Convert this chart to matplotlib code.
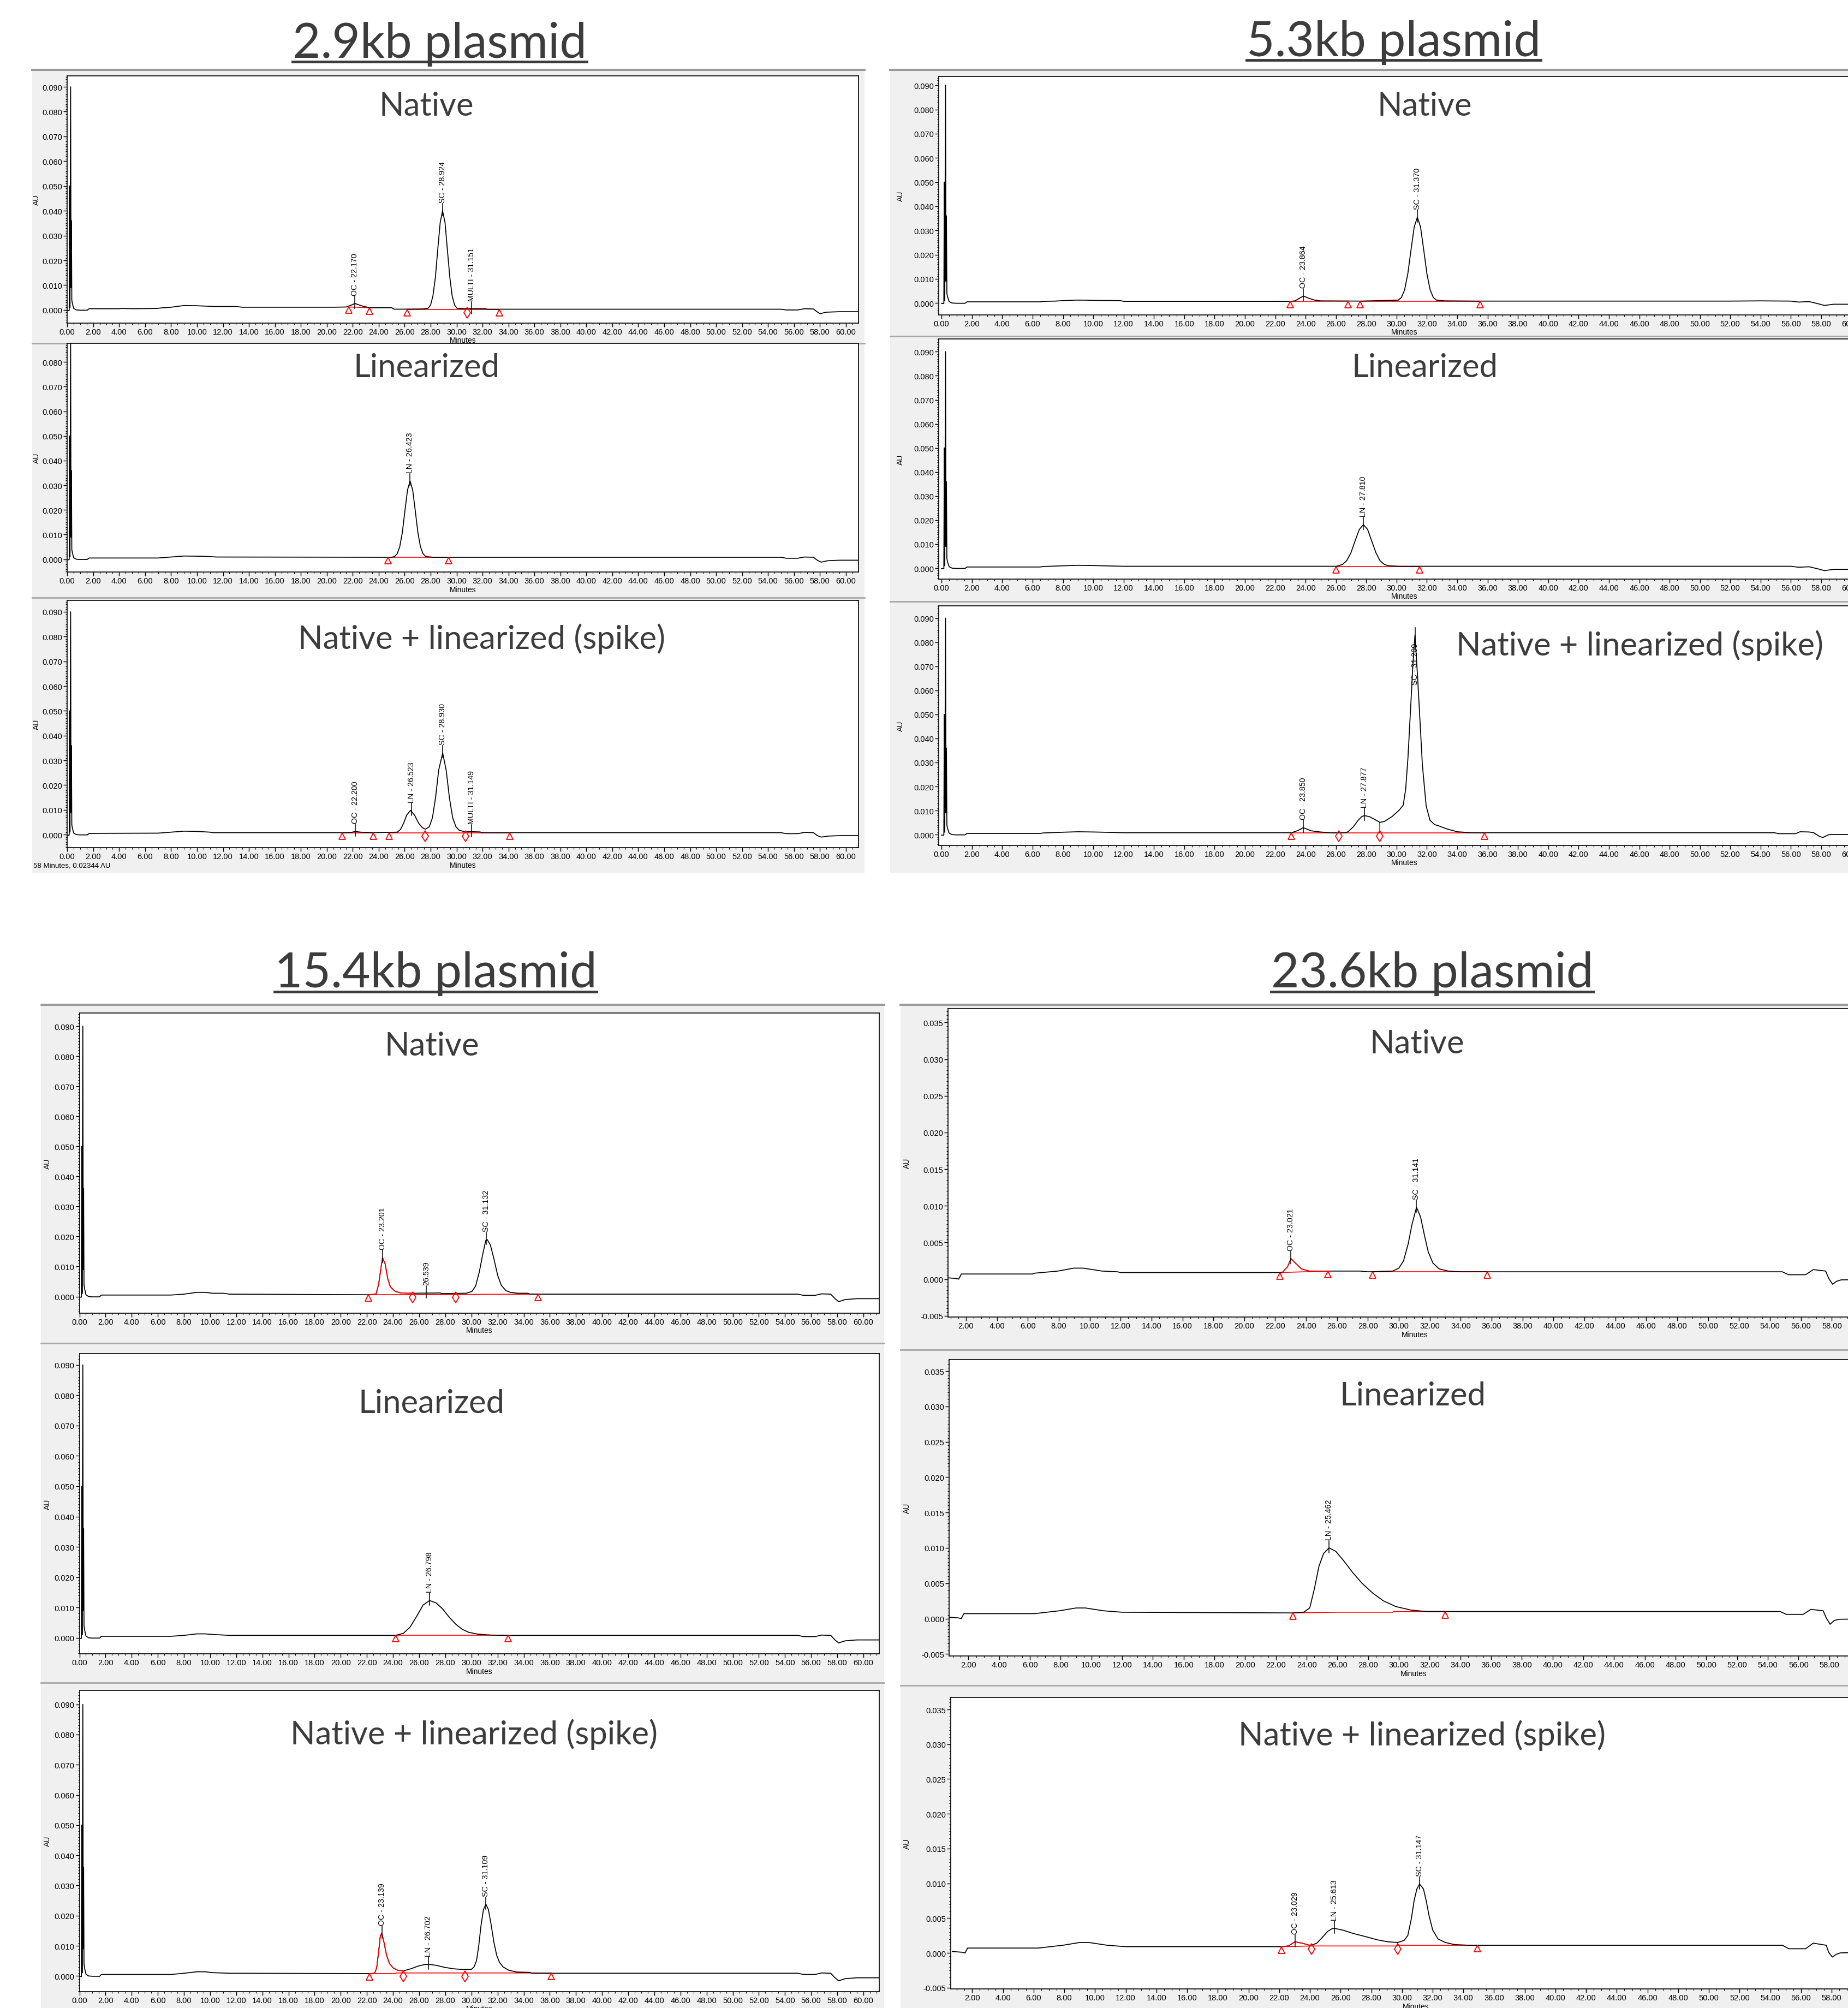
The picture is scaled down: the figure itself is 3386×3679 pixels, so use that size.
# HPLC chromatograms of native / linearized / spiked plasmids (4 sizes, 3 runs each)
import matplotlib
matplotlib.use("Agg")
import matplotlib.pyplot as plt
from matplotlib.patches import Rectangle
from matplotlib.lines import Line2D
from matplotlib.ticker import MultipleLocator, FuncFormatter
import numpy as np

plt.rcParams['font.family'] = ['Liberation Sans', 'DejaVu Sans']

# ---------------- data (minutes, AU) ----------------
inj_spike = [(0.0, -0.0002), (0.15, -0.0002), (0.18, 0.050), (0.21, 0.001), (0.26, 0.090),
             (0.29, 0.009), (0.32, 0.036), (0.35, 0.004), (0.40, 0.0025), (0.5, 0.0006),
             (0.7, 0.0), (1.0, -0.0001), (1.55, -0.0001), (1.65, 0.0004)]

# 2.9 kb
a1_trace = [(1.7, 0.0005), (4.0, 0.0005), (4.2, 0.0006), (5.0, 0.0005), (6.9, 0.0006), (7.2, 0.0008),
            (8.0, 0.0011), (9.0, 0.0018), (10.0, 0.0017), (11.3, 0.0014), (13.0, 0.0014), (13.5, 0.0011),
            (20.5, 0.0011), (21.5, 0.0012), (21.9, 0.0020), (22.17, 0.0026), (22.45, 0.0021), (22.8, 0.0015),
            (23.3, 0.0009), (25.0, 0.0009), (25.2, 0.0003), (27.4, 0.0004), (27.81, 0.0007), (28.0, 0.0020),
            (28.18, 0.0057), (28.37, 0.0132), (28.55, 0.0244), (28.74, 0.0353), (28.92, 0.0400),
            (29.11, 0.0353), (29.29, 0.0244), (29.48, 0.0132), (29.66, 0.0057), (29.85, 0.0020),
            (30.03, 0.0007), (30.5, 0.0005), (32.2, 0.0005), (32.4, 0.0003), (55.0, 0.0003), (55.4, 0.0),
            (56.3, 0.0), (56.8, 0.0005), (57.5, 0.0004), (57.8, -0.0008), (58.0, -0.0015), (58.5, -0.0009),
            (59.5, -0.0007), (61.5, -0.0007)]
a1_marks = [(21.7, 0.0012, 'tri'), (23.3, 0.0009, 'tri'), (26.2, 0.0003, 'tri'), (30.8, 0.0003, 'dia'),
            (33.3, 0.0003, 'tri')]
a1_base = [[(21.7, 0.0012), (23.3, 0.0009)], [(26.2, 0.0003), (33.3, 0.0003)]]
a1_labels = [("OC - 22.170", 22.17, 0.0026, None), ("SC - 28.924", 28.924, 0.0400, None),
             ("MULTI - 31.151", 31.151, 0.0005, None)]

a2_trace = [(1.7, 0.0005), (7.0, 0.0005), (8.0, 0.0009), (9.0, 0.0013), (10.5, 0.0012), (11.5, 0.0009),
            (24.5, 0.0008), (25.0, 0.0008), (25.22, 0.0011), (25.42, 0.0022), (25.62, 0.0050),
            (25.82, 0.0108), (26.02, 0.0196), (26.22, 0.0281), (26.42, 0.0317), (26.62, 0.0281),
            (26.82, 0.0196), (27.02, 0.0108), (27.22, 0.0050), (27.42, 0.0022), (27.62, 0.0011),
            (28.2, 0.0008), (55.0, 0.0008), (55.4, 0.0004), (56.3, 0.0004), (56.8, 0.0009), (57.5, 0.0008),
            (57.8, -0.0004), (58.1, -0.0012), (58.6, -0.0006), (59.5, -0.0004), (61.5, -0.0004)]
a2_marks = [(24.7, 0.0008, 'tri'), (29.4, 0.0008, 'tri')]
a2_base = [[(24.7, 0.0008), (29.4, 0.0008)]]
a2_labels = [("LN - 26.423", 26.423, 0.0317, None)]

a3_trace = [(1.7, 0.0005), (7.0, 0.0006), (8.0, 0.0010), (9.0, 0.0014), (10.0, 0.0013), (11.0, 0.0010),
            (11.2, 0.0008), (21.2, 0.0008), (21.9, 0.0009), (22.2, 0.0013), (22.6, 0.0010), (23.6, 0.0008),
            (25.43, 0.0010), (25.68, 0.0021), (25.92, 0.0046), (26.16, 0.0079), (26.45, 0.0098),
            (26.76, 0.0079), (27.08, 0.0046), (27.37, 0.0028), (27.6, 0.0022), (27.9, 0.0032),
            (28.14, 0.0068), (28.38, 0.0149), (28.62, 0.0260), (28.93, 0.0330), (29.2, 0.0260),
            (29.45, 0.0149), (29.7, 0.0068), (29.95, 0.0032), (30.2, 0.0018), (30.6, 0.0012),
            (31.15, 0.0012), (31.8, 0.0011), (32.0, 0.0008), (55.0, 0.0008), (55.4, 0.0004), (56.3, 0.0004),
            (56.8, 0.0009), (57.5, 0.0008), (57.8, -0.0004), (58.1, -0.0010), (58.6, -0.0006),
            (59.5, -0.0004), (61.5, -0.0004)]
a3_marks = [(21.2, 0.0008, 'tri'), (23.6, 0.0008, 'tri'), (24.8, 0.0008, 'tri'), (27.6, 0.0008, 'dia'),
            (30.7, 0.0008, 'dia'), (34.1, 0.0008, 'tri')]
a3_base = [[(21.2, 0.0008), (23.6, 0.0008)], [(24.8, 0.0008), (34.1, 0.0008)]]
a3_labels = [("OC - 22.200", 22.2, 0.0013, None), ("LN - 26.523", 26.523, 0.0098, None),
             ("SC - 28.930", 28.93, 0.0330, None), ("MULTI - 31.149", 31.149, 0.0012, None)]

# 5.3 kb
b1_trace = [(1.7, 0.0005), (6.5, 0.0005), (6.7, 0.0007), (7.5, 0.0008), (8.0, 0.0010), (8.8, 0.0012),
            (9.5, 0.0012), (10.0, 0.0011), (11.8, 0.0010), (12.0, 0.0007), (23.0, 0.0007), (23.3, 0.0009),
            (23.6, 0.0020), (23.86, 0.0029), (24.2, 0.0020), (24.6, 0.0012), (25.0, 0.0009), (27.6, 0.0008),
            (30.11, 0.0012), (30.32, 0.0023), (30.53, 0.0055), (30.74, 0.0121), (30.95, 0.0219),
            (31.16, 0.0314), (31.37, 0.0355), (31.58, 0.0314), (31.79, 0.0219), (32.0, 0.0121),
            (32.21, 0.0055), (32.42, 0.0023), (32.63, 0.0012), (33.2, 0.0009), (35.5, 0.0008),
            (52.0, 0.0008), (54.0, 0.0009), (56.0, 0.0008), (56.5, 0.0004), (57.2, 0.0006), (57.8, -0.0003),
            (58.2, -0.0010), (58.8, -0.0005), (61.5, -0.0005)]
b1_marks = [(23.0, 0.0007, 'tri'), (26.8, 0.0008, 'tri'), (27.6, 0.0008, 'tri'), (35.5, 0.0008, 'tri')]
b1_base = [[(23.0, 0.0007), (26.8, 0.0008)], [(27.6, 0.0008), (35.5, 0.0008)]]
b1_labels = [("OC - 23.864", 23.864, 0.0029, None), ("SC - 31.370", 31.37, 0.0355, None)]

b2_trace = [(1.7, 0.0005), (6.5, 0.0005), (6.7, 0.0007), (8.0, 0.0010), (9.0, 0.0012), (10.0, 0.0011),
            (12.0, 0.0008), (26.0, 0.0008), (26.16, 0.0010), (26.44, 0.0016), (26.71, 0.0031),
            (26.99, 0.0064), (27.26, 0.0113), (27.54, 0.0161), (27.81, 0.0181), (28.09, 0.0161),
            (28.36, 0.0113), (28.64, 0.0064), (28.91, 0.0031), (29.19, 0.0016), (29.46, 0.0010),
            (30.2, 0.0008), (52.0, 0.0008), (56.0, 0.0008), (56.5, 0.0004), (57.2, 0.0006), (57.8, -0.0003),
            (58.2, -0.0010), (58.8, -0.0005), (61.5, -0.0005)]
b2_marks = [(26.0, 0.0008, 'tri'), (31.5, 0.0008, 'tri')]
b2_base = [[(26.0, 0.0008), (31.5, 0.0008)]]
b2_labels = [("LN - 27.810", 27.81, 0.0181, None)]

b3_trace = [(1.7, 0.0005), (6.5, 0.0005), (6.7, 0.0007), (8.0, 0.0010), (9.0, 0.0012), (10.0, 0.0011),
            (12.0, 0.0008), (23.07, 0.0008), (23.5, 0.0017), (23.85, 0.0029), (24.36, 0.0016),
            (24.98, 0.0011), (25.6, 0.0008), (26.6, 0.0008), (26.8, 0.0012), (27.14, 0.0032),
            (27.46, 0.0059), (27.7, 0.0075), (27.88, 0.0079), (28.2, 0.0075), (28.57, 0.0063),
            (28.9, 0.0051), (29.2, 0.0055), (29.7, 0.0075), (30.19, 0.0103), (30.44, 0.0123),
            (30.6, 0.0190), (30.75, 0.0320), (30.92, 0.0520), (31.06, 0.0690), (31.21, 0.0830),
            (31.38, 0.0660), (31.52, 0.0500), (31.7, 0.0290), (31.95, 0.0119), (32.2, 0.0060),
            (32.5, 0.0042), (32.8, 0.0036), (33.3, 0.0024), (34.0, 0.0012), (34.9, 0.0008),
            (54.9, 0.0008), (55.2, 0.0004), (56.3, 0.0004), (56.6, 0.0012), (57.2, 0.0011), (57.5, 0.0008),
            (57.9, -0.0008), (58.1, -0.0012), (58.5, 0.0), (61.5, 0.0002)]
b3_marks = [(23.07, 0.0008, 'tri'), (26.2, 0.0008, 'dia'), (28.9, 0.0008, 'dia'), (35.8, 0.0008, 'tri')]
b3_base = [[(23.07, 0.0008), (35.8, 0.0008)]]
b3_drops = [(28.9, 0.0008, 0.0051)]
b3_labels = [("OC - 23.850", 23.85, 0.0029, None), ("LN - 27.877", 27.877, 0.0079, None),
             ("SC - 31.209", 31.21, 0.0830, 0.0625)]

# 15.4 kb
c1_trace = [(1.7, 0.0005), (7.0, 0.0005), (8.0, 0.0008), (9.0, 0.0014), (9.6, 0.0014), (10.2, 0.0011),
            (11.0, 0.0011), (11.5, 0.0008), (22.1, 0.0006), (22.7, 0.0008), (22.9, 0.0041), (23.08, 0.0096),
            (23.2, 0.0129), (23.4, 0.0108), (23.6, 0.0059), (23.8, 0.0032), (24.17, 0.0017), (24.6, 0.0012),
            (25.15, 0.0011), (25.57, 0.0011), (27.6, 0.0012), (27.7, 0.0010), (29.6, 0.0011),
            (30.04, 0.0017), (30.32, 0.0035), (30.6, 0.0081), (30.88, 0.0144), (31.1, 0.0187),
            (31.2, 0.0190), (31.45, 0.0172), (31.72, 0.0126), (32.0, 0.0072), (32.28, 0.0038),
            (32.63, 0.0020), (32.98, 0.0014), (33.54, 0.0011), (34.3, 0.0011), (34.5, 0.0008),
            (55.0, 0.0008), (55.4, 0.0004), (56.3, 0.0004), (56.8, 0.0009), (57.5, 0.0008), (57.8, -0.0006),
            (58.1, -0.0017), (58.6, -0.0010), (59.5, -0.0007), (61.5, -0.0007)]
c1_red = (22.1, 25.57)
c1_marks = [(22.1, 0.0006, 'tri'), (25.5, 0.0008, 'dia'), (28.8, 0.0008, 'dia'), (35.1, 0.0008, 'tri')]
c1_base = [[(22.1, 0.0006), (35.1, 0.0008)]]
c1_labels = [("OC - 23.201", 23.201, 0.0129, None), ("26.539", 26.539, 0.0012, None),
             ("SC - 31.132", 31.132, 0.0190, None)]

c2_trace = [(1.7, 0.0005), (7.0, 0.0005), (8.0, 0.0008), (9.0, 0.0013), (9.6, 0.0013), (10.2, 0.0011),
            (11.5, 0.0008), (24.2, 0.0008), (24.8, 0.0015), (25.3, 0.0035), (25.8, 0.0070), (26.3, 0.0108),
            (26.8, 0.0123), (27.3, 0.0115), (27.8, 0.0095), (28.3, 0.0068), (28.8, 0.0045), (29.3, 0.0028),
            (29.8, 0.0018), (30.5, 0.0012), (31.5, 0.0009), (32.8, 0.0008), (55.0, 0.0008), (55.4, 0.0004),
            (56.3, 0.0004), (56.8, 0.0009), (57.5, 0.0008), (57.8, -0.0006), (58.1, -0.0017),
            (58.6, -0.0010), (59.5, -0.0007), (61.5, -0.0007)]
c2_marks = [(24.2, 0.0008, 'tri'), (32.8, 0.0008, 'tri')]
c2_base = [[(24.2, 0.0008), (32.8, 0.0008)]]
c2_labels = [("LN - 26.798", 26.798, 0.0123, None)]

c3_trace = [(1.7, 0.0005), (7.0, 0.0005), (8.0, 0.0009), (9.0, 0.0014), (9.6, 0.0014), (10.2, 0.0011),
            (11.5, 0.0009), (22.24, 0.0008), (22.59, 0.0009), (22.75, 0.0027), (22.9, 0.0081),
            (23.03, 0.0133), (23.14, 0.0142), (23.32, 0.0109), (23.5, 0.0070), (23.72, 0.0042),
            (24.0, 0.0027), (24.35, 0.0019), (24.8, 0.0017), (25.38, 0.0024), (25.94, 0.0033),
            (26.43, 0.0038), (26.85, 0.0038), (27.34, 0.0035), (27.9, 0.0029), (28.6, 0.0024),
            (29.44, 0.0021), (30.0, 0.0022), (30.2, 0.0030), (30.39, 0.0051), (30.56, 0.0100),
            (30.73, 0.0166), (30.92, 0.0220), (31.11, 0.0238), (31.3, 0.0220), (31.5, 0.0172),
            (31.72, 0.0112), (31.93, 0.0069), (32.15, 0.0045), (32.42, 0.0030), (32.86, 0.0019),
            (33.45, 0.0013), (34.48, 0.0012), (34.6, 0.0009), (55.0, 0.0009), (55.4, 0.0005), (56.3, 0.0005),
            (56.8, 0.0010), (57.5, 0.0009), (57.8, -0.0005), (58.1, -0.0016), (58.6, -0.0009),
            (59.5, -0.0006), (61.5, -0.0006)]
c3_red = (22.24, 24.8)
c3_marks = [(22.2, 0.0008, 'tri'), (24.8, 0.0010, 'dia'), (29.5, 0.0010, 'dia'), (36.1, 0.0010, 'tri')]
c3_base = [[(22.2, 0.0008), (24.2, 0.0008), (24.25, 0.0010), (36.1, 0.0010)]]
c3_labels = [("OC - 23.139", 23.139, 0.0142, None), ("LN - 26.702", 26.702, 0.0038, None),
             ("SC - 31.109", 31.109, 0.0238, None)]

# 23.6 kb
d1_trace = [(0.7, 0.0002), (1.33, 0.0001), (1.53, 0.0), (1.7, 0.0007), (6.3, 0.0007), (6.4, 0.0008),
            (7.95, 0.0011), (8.97, 0.0015), (9.58, 0.0015), (10.8, 0.0011), (11.8, 0.0010), (12.0, 0.0009),
            (22.45, 0.0009), (22.8, 0.0017), (23.02, 0.0028), (23.35, 0.0021), (23.7, 0.0014),
            (24.2, 0.0011), (25.45, 0.0011), (27.5, 0.0011), (28.0, 0.0010), (29.6, 0.0011), (30.0, 0.0015),
            (30.3, 0.0025), (30.6, 0.0048), (30.85, 0.0075), (31.14, 0.0098), (31.4, 0.0085),
            (31.65, 0.0060), (31.9, 0.0037), (32.2, 0.0022), (32.6, 0.0014), (33.2, 0.0011), (34.0, 0.0010),
            (54.8, 0.0010), (55.2, 0.0006), (56.3, 0.0006), (56.8, 0.0013), (57.6, 0.0011), (57.8, 0.0001),
            (58.05, -0.0007), (58.3, -0.0003), (58.6, -0.0001), (61.5, 0.0)]
d1_red = (22.3, 25.45)
d1_marks = [(22.3, 0.0009, 'tri'), (25.4, 0.0011, 'tri'), (28.3, 0.0010, 'tri'), (35.7, 0.0010, 'tri')]
d1_base = [[(22.3, 0.0009), (25.4, 0.0011)], [(28.3, 0.0010), (35.7, 0.0010)]]
d1_labels = [("OC - 23.021", 23.021, 0.0028, None), ("SC - 31.141", 31.141, 0.0098, None)]

d2_trace = [(0.7, 0.0002), (1.33, 0.0001), (1.53, 0.0), (1.7, 0.0007), (6.3, 0.0007), (7.9, 0.0011),
            (9.0, 0.0015), (9.6, 0.0015), (10.8, 0.0011), (12.0, 0.0009), (23.1, 0.0008), (23.8, 0.0009),
            (24.2, 0.0015), (24.5, 0.0042), (24.8, 0.0074), (25.1, 0.0092), (25.46, 0.0100), (25.9, 0.0095),
            (26.4, 0.0082), (27.0, 0.0065), (27.6, 0.0050), (28.3, 0.0036), (29.0, 0.0025), (29.8, 0.0017),
            (30.8, 0.0012), (31.8, 0.0010), (33.0, 0.0010), (54.8, 0.0010), (55.2, 0.0006), (56.3, 0.0006),
            (56.8, 0.0013), (57.6, 0.0011), (57.8, 0.0001), (58.05, -0.0008), (58.3, -0.0003),
            (58.6, -0.0001), (61.5, 0.0)]
d2_marks = [(23.1, 0.0008, 'tri'), (33.0, 0.0010, 'tri')]
d2_base = [[(23.1, 0.0008), (26.0, 0.0009), (29.6, 0.0009), (29.65, 0.0010), (33.0, 0.0010)]]
d2_labels = [("LN - 25.462", 25.462, 0.0100, None)]

d3_trace = [(0.7, 0.0002), (1.33, 0.0001), (1.53, 0.0), (1.7, 0.0007), (6.3, 0.0007), (7.9, 0.0011),
            (9.0, 0.0015), (9.6, 0.0015), (10.8, 0.0011), (12.0, 0.0009), (22.14, 0.0009), (22.6, 0.0010),
            (23.03, 0.0016), (23.5, 0.0014), (23.98, 0.0011), (24.1, 0.0011), (24.45, 0.0014),
            (24.8, 0.0022), (25.16, 0.0031), (25.46, 0.0035), (25.66, 0.0035), (26.11, 0.0033),
            (26.82, 0.0028), (27.53, 0.0024), (28.36, 0.0019), (29.07, 0.0016), (29.73, 0.0015),
            (30.14, 0.0018), (30.38, 0.0025), (30.61, 0.0049), (30.79, 0.0075), (30.97, 0.0092),
            (31.15, 0.0099), (31.4, 0.0092), (31.58, 0.0075), (31.76, 0.0054), (32.0, 0.0033),
            (32.35, 0.0020), (32.83, 0.0015), (33.42, 0.0012), (34.4, 0.0011), (54.8, 0.0011),
            (55.2, 0.0006), (56.3, 0.0006), (56.8, 0.0014), (57.65, 0.0011), (57.8, 0.0001),
            (58.04, -0.0006), (58.3, -0.0002), (58.55, 0.0), (61.5, 0.0002)]
d3_red = (22.14, 24.1)
d3_marks = [(22.14, 0.0009, 'tri'), (24.1, 0.0010, 'dia'), (29.73, 0.0010, 'dia'), (34.9, 0.0011, 'tri')]
d3_base = [[(22.14, 0.0009), (24.1, 0.0010), (29.73, 0.0010), (29.76, 0.0011), (34.9, 0.0011)]]
d3_drops = [(29.73, 0.0010, 0.0015)]
d3_labels = [("OC - 23.029", 23.029, 0.0016, None), ("LN - 25.613", 25.613, 0.0035, None),
             ("SC - 31.147", 31.147, 0.0099, None)]

group_titles = ["2.9kb plasmid", "5.3kb plasmid", "15.4kb plasmid", "23.6kb plasmid"]
run_titles = ["Native", "Linearized", "Native + linearized (spike)"]

# ---------------- layout (reference grid 1443 x 1568) ----------------
W, H = 1443.0, 1568.0
S = 3387 / W
fig = plt.figure(figsize=(33.87, 36.80), dpi=100)
fig.patch.set_facecolor('white')


def frac(x0, y0, x1, y1):
    return [x0 / W, 1 - y1 / H, (x1 - x0) / W, (y1 - y0) / H]


def gray_box(x0, y0, x1, y1):
    fig.add_artist(Rectangle((x0 / W, 1 - y1 / H), (x1 - x0) / W, (y1 - y0) / H,
                             transform=fig.transFigure, facecolor='#f0f0f0', edgecolor='none', zorder=-2))
    fig.add_artist(Line2D([x0 / W, x1 / W], [1 - y0 / H] * 2, transform=fig.transFigure,
                          color='#a8a8a8', lw=2.0, zorder=-1))


def fmt_y(v, pos):
    s = "%.3f" % v
    return "0.000" if s == "-0.000" else s


def panel(p):
    x0 = p['x0'] + p['xlim'][0] * p['ppm']
    x1 = p['x0'] + p['xlim'][1] * p['ppm']
    y_top = p['y0'] - p['ylim'][1] * p['ppa']
    y_bot = p['y0'] - p['ylim'][0] * p['ppa']
    gray_box(*p['gray'])
    ax = fig.add_axes(frac(x0, y_top, x1, y_bot), zorder=1)
    ax.set_facecolor('white')
    ax.set_xlim(*p['xlim'])
    ax.set_ylim(*p['ylim'])
    px = 1.0 / (p['ppa'] * S)   # AU per output pixel

    tr = np.array(p['trace'])
    ax.plot(tr[:, 0], tr[:, 1], color='black', lw=1.25, zorder=3)
    if p.get('red'):
        m = (tr[:, 0] >= p['red'][0]) & (tr[:, 0] <= p['red'][1])
        ax.plot(tr[m, 0], tr[m, 1], color='red', lw=1.25, zorder=4)
    for seg in p['base']:
        sg = np.array(seg)
        ax.plot(sg[:, 0], sg[:, 1], color='red', lw=1.2, zorder=2)
    for t, lo, hi in p.get('drops', []):
        ax.plot([t, t], [lo, hi], color='red', lw=1.2, zorder=2)
    for t, au, kind in p['marks']:
        if kind == 'tri':
            ax.plot(t, au - 6 * px, marker='^', ms=9, mfc='none', mec='red', mew=1.3, ls='none', zorder=5)
        else:
            ax.plot(t, au - 6 * px, marker='d', ms=10, mfc='none', mec='red', mew=1.3, ls='none', zorder=5)
    for txt, t, au, tb in p['labels']:
        ax.plot([t, t], [au - 9 * px, au + 13 * px], color='black', lw=1.1, zorder=6)
        yb = au + 15 * px if tb is None else tb
        ax.text(t, yb, txt, rotation=90, ha='center', va='bottom', fontsize=10.3, zorder=7)

    ax.xaxis.set_major_locator(MultipleLocator(2))
    ax.xaxis.set_minor_locator(MultipleLocator(0.5))
    ax.xaxis.set_major_formatter(FuncFormatter(lambda v, pos: "%.2f" % v))
    ax.yaxis.set_major_locator(MultipleLocator(p['ymaj']))
    ax.yaxis.set_minor_locator(MultipleLocator(p['ymaj'] / 10))
    ax.yaxis.set_major_formatter(FuncFormatter(fmt_y))
    ax.tick_params(which='major', direction='out', length=5, width=1.0, labelsize=10.5, pad=1.5)
    ax.tick_params(which='minor', direction='out', length=2.5, width=0.8)
    for sp in ax.spines.values():
        sp.set_linewidth(1.2)
    ax.set_xlabel("Minutes", fontsize=10, labelpad=1)
    fig.text(p['au_x'] / W, 1 - (y_top + y_bot) / 2 / H, "AU", rotation=90, ha='center', va='center', fontsize=10)
    tx, ty = p['title_xy']
    fig.text(tx / W, 1 - ty / H, p['title'], ha='center', va='center', fontsize=43,
             family='Lato', color='#3c3c3c', zorder=10)
    return ax


panels = [
    dict(trace=inj_spike + a1_trace, marks=a1_marks, base=a1_base, labels=a1_labels, title=run_titles[0],
         x0=52.5, ppm=10.13, xlim=(0, 60.96), y0=242.4, ppa=1935.6, ylim=(-0.0053, 0.0944), ymaj=0.01,
         gray=(25, 55, 675, 268.6), au_x=28.5, title_xy=(333, 83)),
    dict(trace=inj_spike + a2_trace, marks=a2_marks, base=a2_base, labels=a2_labels, title=run_titles[1],
         x0=52.5, ppm=10.13, xlim=(0, 60.96), y0=437, ppa=1925, ylim=(-0.0052, 0.0875), ymaj=0.01,
         gray=(25, 268.6, 675, 467), au_x=28.5, title_xy=(333, 287)),
    dict(trace=inj_spike + a3_trace, marks=a3_marks, base=a3_base, labels=a3_labels, title=run_titles[2],
         x0=52.5, ppm=10.13, xlim=(0, 60.96), y0=652, ppa=1933, ylim=(-0.0053, 0.0947), ymaj=0.01,
         gray=(25, 467, 675, 682), au_x=28.5, title_xy=(376, 499)),
    dict(trace=inj_spike + b1_trace, marks=b1_marks, base=b1_base, labels=b1_labels, title=run_titles[0],
         x0=735, ppm=11.84, xlim=(-0.17, 61.2), y0=237, ppa=1889, ylim=(-0.0048, 0.0937), ymaj=0.01,
         gray=(695, 55, 1443, 263), au_x=703, title_xy=(1112, 83)),
    dict(trace=inj_spike + b2_trace, marks=b2_marks, base=b2_base, labels=b2_labels, title=run_titles[1],
         x0=735, ppm=11.84, xlim=(-0.17, 61.2), y0=444, ppa=1878, ylim=(-0.0045, 0.0953), ymaj=0.01,
         gray=(695, 263, 1443, 470), au_x=703, title_xy=(1112, 287)),
    dict(trace=inj_spike + b3_trace, marks=b3_marks, base=b3_base, labels=b3_labels, title=run_titles[2],
         drops=b3_drops,
         x0=735, ppm=11.84, xlim=(-0.17, 61.2), y0=652, ppa=1878, ylim=(-0.0045, 0.0950), ymaj=0.01,
         gray=(695, 470, 1443, 682), au_x=703, title_xy=(1280, 504)),
    dict(trace=inj_spike + c1_trace, marks=c1_marks, base=c1_base, labels=c1_labels, title=run_titles[0],
         red=c1_red,
         x0=62, ppm=10.2, xlim=(0, 61.2), y0=1012.6, ppa=2345.6, ylim=(-0.0055, 0.0944), ymaj=0.01,
         gray=(32, 785, 690, 1049), au_x=37, title_xy=(337, 817)),
    dict(trace=inj_spike + c2_trace, marks=c2_marks, base=c2_base, labels=c2_labels, title=run_titles[1],
         x0=62, ppm=10.2, xlim=(0, 61.2), y0=1279, ppa=2367, ylim=(-0.0053, 0.0938), ymaj=0.01,
         gray=(32, 1049, 690, 1314), au_x=37, title_xy=(337, 1096)),
    dict(trace=inj_spike + c3_trace, marks=c3_marks, base=c3_base, labels=c3_labels, title=run_titles[2],
         red=c3_red,
         x0=62, ppm=10.2, xlim=(0, 61.2), y0=1543, ppa=2356, ylim=(-0.0051, 0.0947), ymaj=0.01,
         gray=(32, 1314, 690, 1568), au_x=37, title_xy=(370, 1354)),
    dict(trace=d1_trace, marks=d1_marks, base=d1_base, labels=d1_labels, title=run_titles[0], red=d1_red,
         x0=729.9, ppm=12.07, xlim=(0.84, 61.2), y0=999, ppa=5723, ylim=(-0.0052, 0.0369), ymaj=0.005,
         gray=(703, 785, 1443, 1054), au_x=708, title_xy=(1106, 815)),
    dict(trace=d2_trace, marks=d2_marks, base=d2_base, labels=d2_labels, title=run_titles[1],
         x0=732, ppm=12.0, xlim=(0.75, 61.2), y0=1264, ppa=5520, ylim=(-0.0053, 0.0366), ymaj=0.005,
         gray=(703, 1054, 1443, 1316), au_x=708, title_xy=(1103, 1090)),
    dict(trace=d3_trace, marks=d3_marks, base=d3_base, labels=d3_labels, title=run_titles[2], red=d3_red,
         drops=d3_drops,
         x0=735, ppm=11.98, xlim=(0.6, 61.2), y0=1525, ppa=5430, ylim=(-0.0052, 0.0367), ymaj=0.005,
         gray=(703, 1316, 1443, 1568), au_x=708, title_xy=(1110, 1355)),
]

for p in panels:
    panel(p)

# status line under the first spiked run
fig.text(26 / W, 1 - 676 / H, "58 Minutes, 0.02344 AU", ha='left', va='center', fontsize=9.5)

# group headings, underlined, plus the window separators
heads = [(343, 45, 25, 675, 55), (1088, 44, 695, 1443, 55), (340, 771, 33, 690, 785), (1118, 771, 703, 1443, 785)]
renderer = fig.canvas.get_renderer()
for name, (hx, hy, sx0, sx1, sy) in zip(group_titles, heads):
    t = fig.text(hx / W, 1 - hy / H, name, ha='center', va='baseline', fontsize=64, family='Lato',
                 color='#3c3c3c')
    bb = t.get_window_extent(renderer=renderer)
    fw, fh = fig.bbox.width, fig.bbox.height
    uy = 1 - (hy + 3.5) / H
    fig.add_artist(Line2D([bb.x0 / fw, bb.x1 / fw], [uy, uy], transform=fig.transFigure,
                          color='#3c3c3c', lw=3.5))
    fig.add_artist(Line2D([sx0 / W, sx1 / W], [1 - sy / H] * 2, transform=fig.transFigure,
                          color='#9a9a9a', lw=3.0))

fig.savefig("out.png", dpi=100)
